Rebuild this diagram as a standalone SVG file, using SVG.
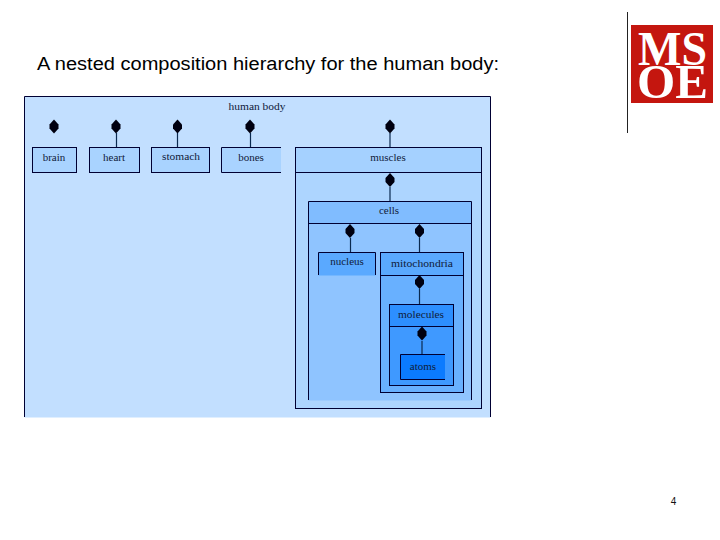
<svg xmlns="http://www.w3.org/2000/svg" width="720" height="540" viewBox="0 0 720 540">
<style>
.e{stroke:#000033;stroke-width:1;fill:none}
.l{font-family:"Liberation Serif",serif;font-size:11px;fill:#10203a;text-anchor:middle}
.c{stroke:#0a2a50;stroke-width:1.2;fill:none}
.d{fill:#000010}
.m{font-family:"Liberation Serif",serif;font-weight:bold;fill:#fff}
</style>
<defs>
<path id="dia" class="d" d="M0 -7L4.500 -2L4.500 2L0 7L-4.500 2L-4.500 -2Z"/>
</defs>
<rect width="720" height="540" fill="#fff"/>
<text x="37" y="70" font-family="'Liberation Sans',sans-serif" font-size="18" fill="#000" textLength="462" lengthAdjust="spacingAndGlyphs">A nested composition hierarchy for the human body:</text>
<line x1="627.500" y1="12" x2="627.500" y2="133" stroke="#222" stroke-width="1"/>
<g id="logo">
<rect x="631" y="25" width="82" height="78" fill="#c4160f"/>
<text class="m" x="638" y="65" font-size="48" textLength="69" lengthAdjust="spacingAndGlyphs">MS</text>
<text class="m" x="637" y="98" font-size="48" textLength="71" lengthAdjust="spacingAndGlyphs">OE</text>
</g>
<g id="human-body">
<rect x="24.500" y="96.500" width="466" height="321" fill="#c2dfff" stroke="none"/>
<path class="e" d="M24.500 417V96.500H490.500V417"/>
<text class="l" x="257" y="110" textLength="57" lengthAdjust="spacingAndGlyphs">human body</text>
</g>
<g id="brain">
<rect x="32.500" y="147.500" width="44" height="25" class="e" style="fill:#a9d3ff"/>
<text class="l" x="54" y="161">brain</text>
</g>
<g id="heart">
<rect x="89.500" y="147.500" width="50" height="25" class="e" style="fill:#a9d3ff"/>
<text class="l" x="114" y="161">heart</text>
</g>
<g id="stomach">
<rect x="151.500" y="147.500" width="58" height="25" class="e" style="fill:#a9d3ff"/>
<text class="l" x="181" y="160" textLength="38" lengthAdjust="spacingAndGlyphs">stomach</text>
</g>
<g id="bones">
<rect x="221.500" y="147.500" width="59.500" height="25" fill="#a9d3ff"/>
<path class="e" d="M281 147.500H221.500V172.500H281"/>
<text class="l" x="251" y="161">bones</text>
</g>
<g id="muscles">
<rect x="295.500" y="147.500" width="186" height="261" fill="#add5ff"/>
<rect x="295.500" y="147.500" width="186" height="25" fill="#a5d1ff"/>
<rect x="295.500" y="147.500" width="186" height="261" class="e"/>
<line class="e" x1="295" y1="172.500" x2="482" y2="172.500"/>
<text class="l" x="388" y="161">muscles</text>
</g>
<g id="cells">
<rect x="308.500" y="201.500" width="163" height="199" fill="#8fc4ff"/>
<rect x="308.500" y="201.500" width="163" height="22" fill="#80bcff"/>
<path class="e" d="M308.500 400V201.500H471.500V400M308 223.500H472"/>
<text class="l" x="389" y="214">cells</text>
</g>
<g id="nucleus">
<rect x="318.500" y="252.500" width="57" height="23" fill="#5aa9ff"/>
<path class="e" d="M318.500 275V252.500H375.500V275"/>
<text class="l" x="347" y="265">nucleus</text>
</g>
<g id="mitochondria">
<rect x="380.500" y="252.500" width="83" height="140" fill="#68b0ff"/>
<rect x="380.500" y="252.500" width="83" height="23" fill="#5aa9ff"/>
<rect x="380.500" y="252.500" width="83" height="140" class="e"/>
<line class="e" x1="380" y1="275.500" x2="464" y2="275.500"/>
<text class="l" x="422" y="267" textLength="62" lengthAdjust="spacingAndGlyphs">mitochondria</text>
</g>
<g id="molecules">
<rect x="389.500" y="304.500" width="64" height="81" fill="#3f99ff"/>
<rect x="389.500" y="304.500" width="64" height="22" fill="#2d8fff"/>
<rect x="389.500" y="304.500" width="64" height="81" class="e"/>
<line class="e" x1="389" y1="326.500" x2="454" y2="326.500"/>
<text class="l" x="421" y="318" textLength="46" lengthAdjust="spacingAndGlyphs">molecules</text>
</g>
<g id="atoms">
<rect x="400.500" y="354.500" width="44.500" height="25" fill="#0b7bff"/>
<path class="e" d="M445 354.500H400.500V379.500H445"/>
<text class="l" x="423" y="370">atoms</text>
</g>
<g id="connectors">
<path class="c" d="M116.500 133V147M177.500 133V147M250.500 133V147M390 133V147M390 187V201M350.500 238V252M419.500 238V252M419.500 289V304M422 341V354"/>
<use href="#dia" x="54" y="126.500"/>
<use href="#dia" x="116" y="126.500"/>
<use href="#dia" x="177.500" y="126.500"/>
<use href="#dia" x="250" y="126.500"/>
<use href="#dia" x="390" y="126.500"/>
<use href="#dia" x="390" y="180"/>
<use href="#dia" x="350" y="231"/>
<use href="#dia" x="419.500" y="231"/>
<use href="#dia" x="419.500" y="282"/>
<use href="#dia" x="422" y="333.500"/>
</g>
<text x="673.500" y="505" font-family="'Liberation Sans',sans-serif" font-size="10" fill="#111" text-anchor="middle">4</text>
</svg>
